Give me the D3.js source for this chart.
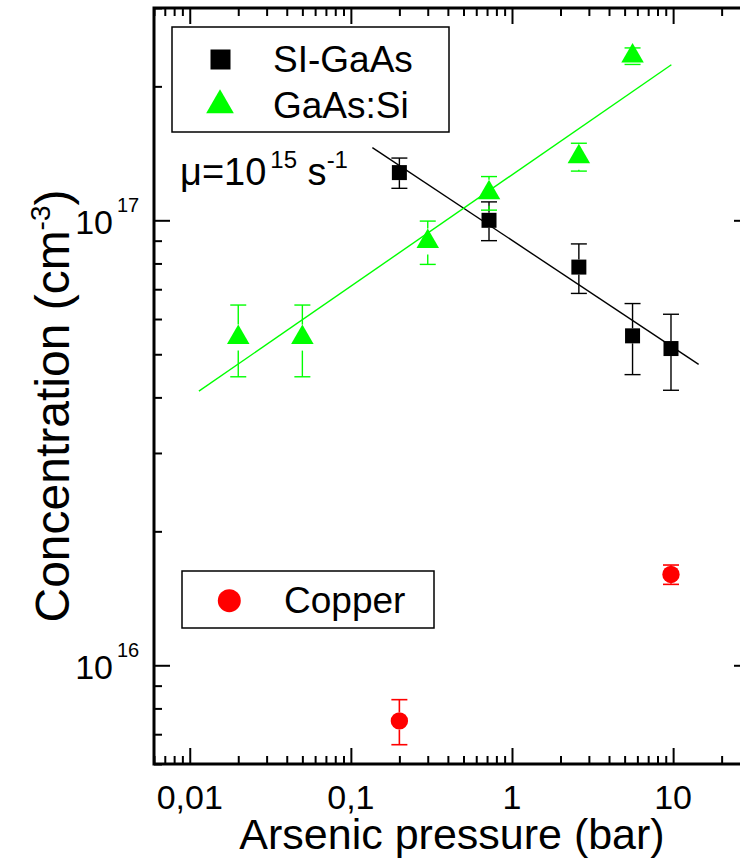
<!DOCTYPE html>
<html>
<head>
<meta charset="utf-8">
<script src="https://cdn.jsdelivr.net/npm/d3@7"></script>
<style>
  html, body { margin: 0; padding: 0; background: #fff; }
  svg { display: block; font-family: "Liberation Sans", Arial, Helvetica, sans-serif; }
</style>
</head>
<body>
<svg id="chart" width="740" height="860"></svg>
<script>
// ---- measured concentrations vs arsenic pressure ----
// SI-GaAs (black squares)
const siPressure = [0.2, 0.72, 2.6, 5.6, 9.7];
const siConc     = [1.28e17, 1.0e17, 7.85e16, 5.5e16, 5.15e16];
const siErr      = [1.0e16, 1.0e16, 1.0e16, 1.0e16, 1.0e16];

// GaAs:Si (green triangles)
const dopedPressure = [0.02, 0.05, 0.3, 0.72, 2.6, 5.6];
const dopedConc     = [5.45e16, 5.45e16, 8.96e16, 1.154e17, 1.39e17, 2.34e17];
const dopedErr      = [1.0e16, 1.0e16, 1.0e16, 1.0e16, 1.0e16, 1.0e16];

// Copper (red circles)
const cuPressure = [0.2, 9.7];
const cuConc     = [7.5e15, 1.6e16];
const cuErr      = [8.7e14, 8.0e14];

// power-law fit lines (end points)
const siFitP    = [0.136, 14.4];
const siFitC    = [1.457e17, 4.745e16];
const dopedFitP = [0.0114, 9.75];
const dopedFitC = [4.13e16, 2.237e17];

// axis ticks
const xMajor      = [0.01, 0.1, 1, 10];
const xTickLabels = ["0,01", "0,1", "1", "10"];
const yMajor      = [1e16, 1e17];
const yTickExp    = ["16", "17"];

// ---- layout ----
const svg = d3.select("#chart");
const plot = { left: 154, right: 750, top: 8, bottom: 764 };

const x = d3.scaleLog().domain([0.006, 30]).range([plot.left, plot.right]);
const y = d3.scaleLog().domain([6e15, 3e17]).range([plot.bottom, plot.top]);

function minorTicks(scale, majors) {
  const [a, b] = scale.domain();
  const out = [];
  for (let e = Math.floor(Math.log10(a)); e <= Math.ceil(Math.log10(b)); e++) {
    for (let k = 1; k <= 9; k++) {
      const v = k * Math.pow(10, e);
      if (v >= a * 0.9999 && v <= b * 1.0001 && !majors.some(m => Math.abs(m - v) / v < 1e-9)) out.push(v);
    }
  }
  return out;
}
const xMinor = minorTicks(x, xMajor);
const yMinor = minorTicks(y, yMajor);

const MAJ = 16, MIN = 8;
const tickW = 2;

function styleAxis(g) {
  g.select(".domain").remove();
  g.selectAll(".tick line").attr("stroke", "#000").attr("stroke-width", tickW);
  g.selectAll(".tick text").remove();
}

// bottom / top axes (ticks point inward)
[[d3.axisBottom, plot.bottom], [d3.axisTop, plot.top]].forEach(([fn, pos]) => {
  svg.append("g").attr("transform", `translate(0,${pos})`)
    .call(fn(x).tickValues(xMajor).tickSize(-MAJ).tickSizeOuter(0)).call(styleAxis);
  svg.append("g").attr("transform", `translate(0,${pos})`)
    .call(fn(x).tickValues(xMinor).tickSize(-MIN).tickSizeOuter(0)).call(styleAxis);
});
// left / right axes
[[d3.axisLeft, plot.left], [d3.axisRight, plot.right]].forEach(([fn, pos]) => {
  svg.append("g").attr("transform", `translate(${pos},0)`)
    .call(fn(y).tickValues(yMajor).tickSize(-MAJ).tickSizeOuter(0)).call(styleAxis);
  svg.append("g").attr("transform", `translate(${pos},0)`)
    .call(fn(y).tickValues(yMinor).tickSize(-MIN).tickSizeOuter(0)).call(styleAxis);
});

// frame
svg.append("rect")
  .attr("x", plot.left).attr("y", plot.top)
  .attr("width", plot.right - plot.left).attr("height", plot.bottom - plot.top)
  .attr("fill", "none").attr("stroke", "#000").attr("stroke-width", 3);

// x tick labels
svg.append("g").selectAll("text").data(xMajor).join("text")
  .attr("x", d => x(d)).attr("y", 809)
  .attr("text-anchor", "middle").attr("font-size", 34).attr("fill", "#000")
  .text((d, i) => xTickLabels[i]);

// y tick labels: 10 with superscript exponent
const yLab = svg.append("g").selectAll("g").data(yMajor).join("g");
yLab.append("text")
  .attr("x", 113).attr("y", d => y(d) + 14)
  .attr("text-anchor", "end").attr("font-size", 34).attr("fill", "#000").text("10");
yLab.append("text")
  .attr("x", 117).attr("y", d => y(d) - 8)
  .attr("font-size", 20).attr("fill", "#000").text((d, i) => yTickExp[i]);

// axis titles
svg.append("text")
  .attr("x", 452).attr("y", 849).attr("text-anchor", "middle")
  .attr("font-size", 43).attr("fill", "#000").text("Arsenic pressure (bar)");

const yt = svg.append("text")
  .attr("transform", "translate(69,406) rotate(-90)")
  .attr("text-anchor", "middle").attr("font-size", 48).attr("fill", "#000");
yt.append("tspan").text("Concentration (cm");
yt.append("tspan").attr("font-size", 28).attr("dy", -19).text("-3");
yt.append("tspan").attr("dy", 19).text(")");

// ---- fit lines ----
const line = d3.line().x(d => x(d[0])).y(d => y(d[1]));
svg.append("path").datum(siFitP.map((p, i) => [p, siFitC[i]]))
  .attr("d", line).attr("fill", "none").attr("stroke", "#000").attr("stroke-width", 1.4);
svg.append("path").datum(dopedFitP.map((p, i) => [p, dopedFitC[i]]))
  .attr("d", line).attr("fill", "none").attr("stroke", "#00ff00").attr("stroke-width", 1.4);

// ---- error bars with a gap around the symbol ----
function errorBars(ps, cs, es, color, half, width) {
  const g = svg.append("g").attr("stroke", color).attr("stroke-width", width).attr("fill", "none");
  const cap = 8;
  ps.forEach((p, i) => {
    const cx = x(p), cy = y(cs[i]);
    const yt = y(cs[i] + es[i]), yb = y(cs[i] - es[i]);
    if (yt < cy - half) g.append("line").attr("x1", cx).attr("x2", cx).attr("y1", yt).attr("y2", cy - half);
    if (yb > cy + half) g.append("line").attr("x1", cx).attr("x2", cx).attr("y1", cy + half).attr("y2", yb);
    g.append("line").attr("x1", cx - cap).attr("x2", cx + cap).attr("y1", yt).attr("y2", yt);
    g.append("line").attr("x1", cx - cap).attr("x2", cx + cap).attr("y1", yb).attr("y2", yb);
  });
}

function trianglePath(cx, cy, R) {
  const hw = R * Math.sqrt(3) / 2;
  return `M${cx},${cy - R}L${cx + hw},${cy + R / 2}L${cx - hw},${cy + R / 2}Z`;
}

// SI-GaAs
errorBars(siPressure, siConc, siErr, "#000", 7.5, 1.4);
svg.append("g").selectAll("rect").data(siPressure).join("rect")
  .attr("x", d => x(d) - 7.5).attr("y", (d, i) => y(siConc[i]) - 7.5)
  .attr("width", 15).attr("height", 15).attr("fill", "#000");

// GaAs:Si
const TR = 13;
errorBars(dopedPressure, dopedConc, dopedErr, "#00ff00", TR, 1.4);
svg.append("g").selectAll("path").data(dopedPressure).join("path")
  .attr("d", (d, i) => trianglePath(x(d), y(dopedConc[i]), TR)).attr("fill", "#00ff00");

// Copper
errorBars(cuPressure, cuConc, cuErr, "#ff0000", 8.7, 1.6);
svg.append("g").selectAll("circle").data(cuPressure).join("circle")
  .attr("cx", d => x(d)).attr("cy", (d, i) => y(cuConc[i])).attr("r", 8.7).attr("fill", "#ff0000");

// ---- annotation ----
const mu = svg.append("text").attr("x", 180).attr("y", 185).attr("font-size", 38).attr("fill", "#000");
mu.append("tspan").text("\u03bc=10");
mu.append("tspan").attr("font-size", 24).attr("dx", 4).attr("dy", -17).text("15");
mu.append("tspan").attr("dy", 17).text(" s");
mu.append("tspan").attr("font-size", 24).attr("dy", -17).text("-1");

// ---- legends ----
const leg1 = svg.append("g");
leg1.append("rect").attr("x", 172).attr("y", 27).attr("width", 277).attr("height", 105)
  .attr("fill", "#fff").attr("stroke", "#000").attr("stroke-width", 1.5);
leg1.append("rect").attr("x", 210.5).attr("y", 49.5).attr("width", 20).attr("height", 20).attr("fill", "#000");
leg1.append("path").attr("d", trianglePath(220, 105.3, 16)).attr("fill", "#00ff00");
leg1.append("text").attr("x", 273).attr("y", 71.7).attr("font-size", 37).attr("fill", "#000").text("SI-GaAs");
leg1.append("text").attr("x", 273).attr("y", 118.3).attr("font-size", 37).attr("fill", "#000").text("GaAs:Si");

const leg2 = svg.append("g");
leg2.append("rect").attr("x", 182).attr("y", 571).attr("width", 252).attr("height", 57)
  .attr("fill", "#fff").attr("stroke", "#000").attr("stroke-width", 1.5);
leg2.append("circle").attr("cx", 229.3).attr("cy", 600.7).attr("r", 11.5).attr("fill", "#ff0000");
leg2.append("text").attr("x", 284).attr("y", 613.3).attr("font-size", 37).attr("fill", "#000").text("Copper");
</script>
</body>
</html>
